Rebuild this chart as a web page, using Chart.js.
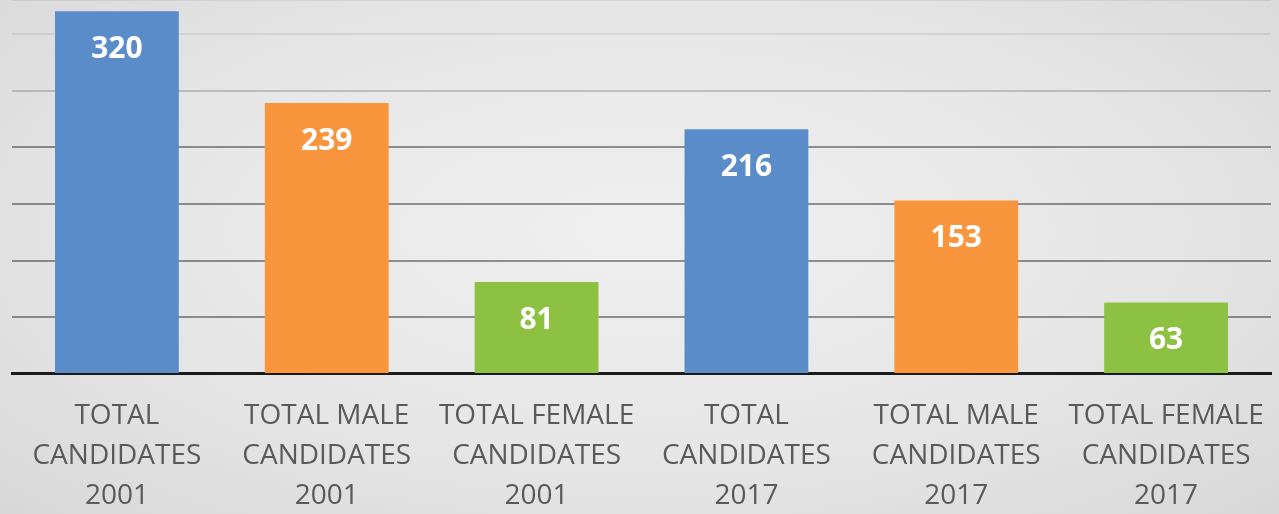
<!DOCTYPE html>
<html>
<head>
<meta charset="utf-8">
<script src="https://cdn.jsdelivr.net/npm/chart.js@4.4.1/dist/chart.umd.min.js"></script>
<style>
  html, body { margin: 0; padding: 0; }
  body {
    width: 1279px; height: 514px; overflow: hidden;
    background: radial-gradient(ellipse at 50% 45%, #f0f0f0 0%, #e6e6e6 55%, #d8d8d8 100%);
  }
  #wrap { position: relative; width: 1279px; height: 514px; }
</style>
</head>
<body>
<div id="wrap"><canvas id="candidatesChart"></canvas></div>
<script>
// カテゴリ（複数行ラベル）
const categories = [
  ['TOTAL', 'CANDIDATES', '2001'],
  ['TOTAL MALE', 'CANDIDATES', '2001'],
  ['TOTAL FEMALE', 'CANDIDATES', '2001'],
  ['TOTAL', 'CANDIDATES', '2017'],
  ['TOTAL MALE', 'CANDIDATES', '2017'],
  ['TOTAL FEMALE', 'CANDIDATES', '2017']
];
const candidateCounts = [320, 239, 81, 216, 153, 63];
const barColors = ['#5b8cca', '#f9953c', '#8dc141', '#5b8cca', '#f9953c', '#8dc141'];

// 棒の上端内側に値を白文字で描く
const insideLabels = {
  id: 'insideLabels',
  afterDatasetsDraw(chart) {
    const { ctx } = chart;
    const meta = chart.getDatasetMeta(0);
    ctx.save();
    ctx.fillStyle = '#ffffff';
    ctx.font = 'bold 30px "Open Sans"';
    ctx.textAlign = 'center';
    ctx.textBaseline = 'middle';
    meta.data.forEach((bar, i) => {
      ctx.fillText(String(chart.data.datasets[0].data[i]), bar.x, bar.y + 38);
    });
    ctx.restore();
  }
};

const ctx = document.getElementById('candidatesChart').getContext('2d');
new Chart(ctx, {
  type: 'bar',
  data: {
    labels: categories,
    datasets: [{
      data: candidateCounts,
      backgroundColor: barColors,
      categoryPercentage: 1,
      barPercentage: 0.59
    }]
  },
  options: {
    responsive: true,
    maintainAspectRatio: false,
    animation: false,
    layout: { padding: { left: 12, right: 8, top: 0, bottom: -16 } },
    plugins: { legend: { display: false }, tooltip: { enabled: false } },
    scales: {
      x: {
        grid: { display: false },
        border: { display: true, color: '#1a1a1a', width: 3 },
        ticks: {
          color: '#595959',
          font: { family: '"Open Sans"', size: 28, lineHeight: 1.43 },
          maxRotation: 0,
          autoSkip: false,
          padding: 14
        }
      },
      y: {
        min: 0,
        max: 330,
        ticks: { display: false, stepSize: 50 },
        border: { display: false },
        grid: {
          lineWidth: 2,
          drawTicks: false,
          color: (c) => {
            const v = c.tick ? c.tick.value : 0;
            if (v === 0) return 'rgba(0,0,0,0)';
            if (v >= 300) return 'rgba(0,0,0,0.07)';
            if (v >= 250) return 'rgba(0,0,0,0.18)';
            return 'rgba(0,0,0,0.4)';
          }
        }
      }
    }
  },
  plugins: [insideLabels]
});
</script>
</body>
</html>
